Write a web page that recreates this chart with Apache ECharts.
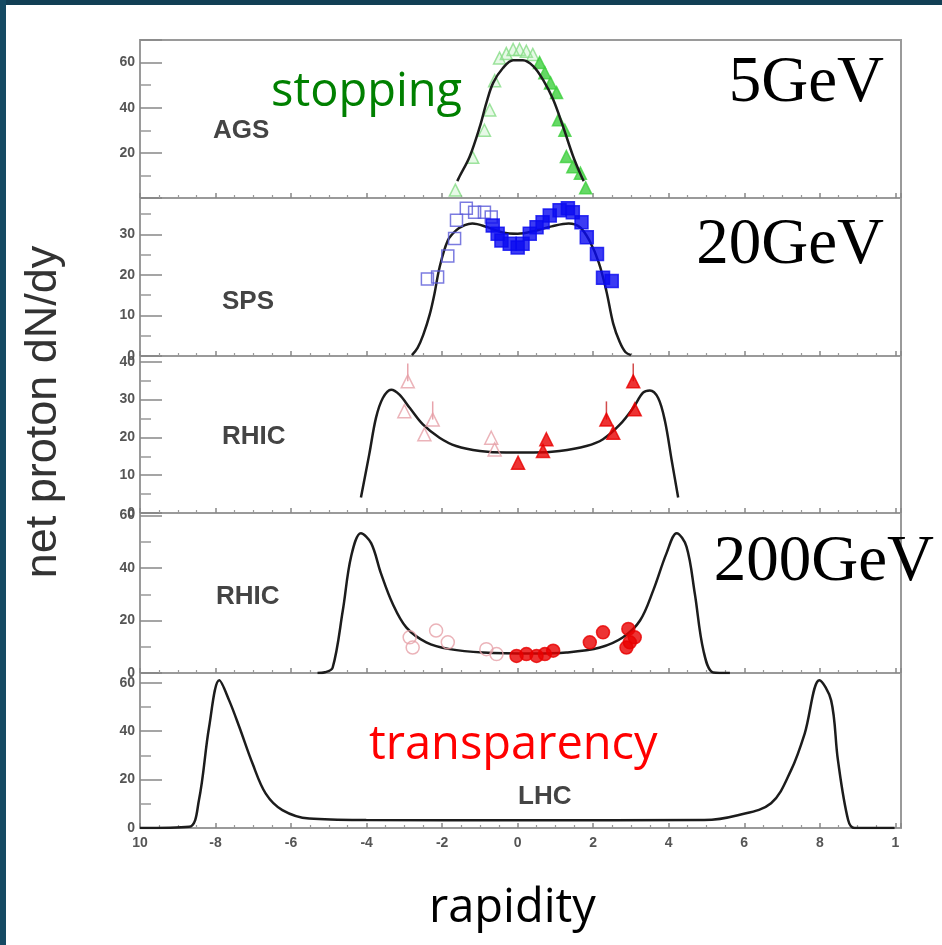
<!DOCTYPE html>
<html>
<head>
<meta charset="utf-8">
<script src="https://cdn.jsdelivr.net/npm/echarts@6/dist/echarts.min.js"></script>
<style>
  html, body { margin: 0; padding: 0; background: #fff; }
  #chart { width: 942px; height: 945px; }
</style>
</head>
<body>
<div id="chart"></div>
<script>
// rapidity tick labels as printed on the original (ends are clipped there)
const xTicks = { '-10': '10', '-8': '-8', '-6': '-6', '-4': '-4', '-2': '-2', '0': '0', '2': '2', '4': '4', '6': '6', '8': '8', '10': '1' };

// model curves [rapidity, dN/dy]
const agsCurve = [[-1.6, 7.5], [-1.54, 9.5], [-1.27, 18.4], [-1.0, 31.7], [-0.83, 42], [-0.65, 51], [-0.39, 57.6], [-0.12, 61], [0.14, 61], [0.41, 58.4], [0.67, 52.4], [0.94, 43.6], [1.2, 31.7], [1.47, 18.4], [1.69, 9.5], [1.75, 7.5]];
const spsCurve = [[-2.8, 0.2], [-2.65, 2], [-2.5, 5.2], [-2.33, 10.2], [-2.2, 15.5], [-2.07, 21.8], [-1.85, 28.5], [-1.63, 31], [-1.4, 32.3], [-1.2, 32.7], [-0.8, 31.8], [-0.4, 30.5], [0, 30.2], [0.5, 31], [0.9, 32], [1.35, 32.7], [1.65, 31.8], [1.9, 28.5], [2.15, 23], [2.35, 16], [2.53, 8], [2.7, 3.5], [2.85, 1], [3.0, 0.2]];
const rhic62Curve = [[-4.15, 4.1], [-3.93, 15.5], [-3.75, 25.2], [-3.57, 30.4], [-3.35, 32.6], [-3.13, 31.3], [-2.86, 27.8], [-2.51, 23.4], [-2.07, 19.9], [-1.63, 17.7], [-1.0, 16.4], [-0.3, 16], [0.41, 16], [1.11, 16.4], [1.82, 17.7], [2.26, 19.5], [2.71, 23.4], [3.06, 27.8], [3.32, 31.8], [3.5, 32.4], [3.72, 30.4], [3.9, 24.3], [4.08, 13.8], [4.25, 4.1]];
const rhic200Curve = [[-5.3, 0], [-5.1, 0.3], [-4.9, 2], [-4.63, 23.8], [-4.41, 44.4], [-4.15, 53.3], [-3.88, 49.5], [-3.62, 38], [-3.31, 26.4], [-2.95, 17.4], [-2.42, 11.7], [-1.8, 9.1], [-0.92, 7.8], [0.41, 7.4], [1.29, 7.8], [2.18, 9.7], [2.79, 13.6], [3.24, 20], [3.59, 31.5], [3.94, 45.6], [4.21, 53.3], [4.47, 48.2], [4.69, 30.3], [4.92, 8.5], [5.18, 0.2], [5.62, 0]];
const lhcCurve = [[-10, 0], [-8.7, 0.5], [-8.44, 11.5], [-8.17, 41.7], [-7.9, 61], [-7.64, 52.7], [-7.37, 41.7], [-7.02, 26.6], [-6.67, 14.2], [-6.23, 7.4], [-5.52, 3.9], [-4.01, 3.3], [0, 3.2], [4.94, 3.3], [5.83, 5.3], [6.71, 10.2], [7.24, 23.9], [7.6, 39], [7.99, 61], [8.3, 52.7], [8.48, 28], [8.75, 3.3], [8.92, 0], [9.98, 0]];

// measured points
const agsOpen = [[-1.65, 3.5], [-1.19, 18], [-0.88, 30], [-0.74, 39], [-0.61, 52], [-0.48, 62], [-0.3, 64], [-0.12, 65.8], [0.05, 65.8], [0.23, 65], [0.4, 63.6]];
const agsFilled = [[0.58, 60], [0.72, 55.5], [0.87, 51], [1.03, 46.7], [1.08, 34.7], [1.25, 30], [1.29, 18.4], [1.46, 13.8], [1.66, 11], [1.8, 4.5]];
const spsOpen = [[-2.39, 19], [-2.12, 19.5], [-1.85, 24.7], [-1.67, 29], [-1.62, 33.5], [-1.36, 36.5], [-1.14, 35.5], [-0.88, 35.5], [-0.7, 34.3]];
const spsFilled = [[-0.66, 32.2], [-0.53, 30.2], [-0.43, 28.5], [-0.21, 27.7], [0, 26.8], [0.13, 27.7], [0.32, 30.2], [0.5, 31.8], [0.66, 33], [0.85, 34.7], [1.11, 36], [1.33, 36.5], [1.46, 35.5], [1.69, 33], [1.83, 29.3], [2.1, 25.2], [2.26, 19.3], [2.49, 18.5]];
const rhic62Open = [[-2.91, 34.8], [-3.0, 26.9], [-2.25, 24.7], [-2.47, 20.8], [-0.7, 19.9], [-0.61, 16.8]];
const rhic62Filled = [[0.01, 13.3], [0.67, 16.4], [0.76, 19.5], [2.35, 24.7], [2.53, 21.2], [3.06, 34.8], [3.1, 27.4]];
const rhic62Err = [[-2.91, 34.8, 39.5], [-2.25, 24.7, 29.5], [2.35, 24.7, 29.5], [3.06, 34.8, 39.5]];
const rhic200Open = [[-2.86, 13.6], [-2.78, 9.7], [-2.16, 16.2], [-1.85, 11.7], [-0.83, 9.1], [-0.56, 7.2]];
const rhic200Filled = [[-0.03, 6.5], [0.23, 7.2], [0.5, 6.5], [0.72, 7.2], [0.94, 8.5], [1.91, 11.7], [2.26, 15.5], [2.93, 16.8], [2.97, 11.7], [3.1, 13.6], [2.88, 9.7]];

// panel y ranges and tick steps
const yMax = [70, 39, 41.5, 61, 64];
const yStep = [20, 10, 10, 20, 20];
const panelTop = [40, 198, 356, 513, 673];
const panelHeight = [158, 158, 157, 160, 155];

const chart = echarts.init(document.getElementById('chart'));

const grids = panelTop.map((t, i) => ({
  left: 140, right: 41, top: t, height: panelHeight[i],
  show: true, borderColor: '#9a9a9a', borderWidth: 2, backgroundColor: 'transparent'
}));

const xAxes = panelTop.map((t, i) => ({
  type: 'value', gridIndex: i, min: -10, max: 10.15, interval: 2, position: 'bottom',
  axisLine: { show: false, onZero: false },
  splitLine: { show: false },
  axisTick: { show: true, inside: true, length: 5, lineStyle: { color: '#888', width: 1.5 } },
  minorTick: { show: true, splitNumber: 4, length: 3, lineStyle: { color: '#999', width: 1.2 } },
  axisLabel: {
    show: i === 4, margin: 8, color: '#555', fontSize: 14, fontWeight: 'bold', fontFamily: 'Liberation Sans',
    formatter: v => (xTicks[String(v)] !== undefined ? xTicks[String(v)] : '')
  }
}));

const yAxes = panelTop.map((t, i) => ({
  type: 'value', gridIndex: i, min: 0, max: yMax[i], interval: yStep[i], position: 'left',
  axisLine: { show: false, onZero: false },
  splitLine: { show: false },
  axisTick: { show: true, inside: true, length: 22, lineStyle: { color: '#888', width: 1.5 } },
  minorTick: { show: true, splitNumber: 2, length: 11, lineStyle: { color: '#999', width: 1.5 } },
  axisLabel: {
    margin: 5, color: '#555', fontSize: 14, fontWeight: 'bold', fontFamily: 'Liberation Sans',
    formatter: v => {
      if (v % yStep[i] !== 0) return '';
      if (i === 0 && v === 0) return '';
      return String(v);
    }
  }
}));

function curve(i, data, z) {
  return {
    type: 'line', xAxisIndex: i, yAxisIndex: i, data: data, smooth: 0.35,
    showSymbol: false, z: z, silent: true,
    lineStyle: { color: '#1c1c1c', width: 2.5 }
  };
}
function points(i, data, symbol, size, fill, stroke, z) {
  return {
    type: 'scatter', xAxisIndex: i, yAxisIndex: i, data: data, symbol: symbol, symbolSize: size, z: z, silent: true,
    itemStyle: { color: fill, borderColor: stroke, borderWidth: 1.5 }
  };
}

const series = [
  points(0, agsOpen, 'triangle', 12, 'rgba(170,235,170,0.35)', '#86dc86', 2),
  points(0, agsFilled, 'triangle', 12, '#3fcf3f', '#3fcf3f', 2),
  curve(0, agsCurve, 3),
  curve(1, spsCurve, 2),
  points(1, spsOpen, 'rect', 12, 'rgba(255,255,255,0)', '#5a5ad8', 3),
  points(1, spsFilled, 'rect', 13, '#0a0af0', '#0a0af0', 3),
  {
    type: 'custom', xAxisIndex: 2, yAxisIndex: 2, data: rhic62Err, z: 2, silent: true,
    encode: { x: 0, y: [1, 2] },
    renderItem: (params, api) => {
      const p0 = api.coord([api.value(0), api.value(1)]);
      const p1 = api.coord([api.value(0), api.value(2)]);
      return {
        type: 'line',
        shape: { x1: p0[0], y1: p0[1], x2: p1[0], y2: p1[1] },
        style: { stroke: api.value(0) < 0 ? '#e8a3ab' : '#d24b4b', lineWidth: 1.5 }
      };
    }
  },
  curve(2, rhic62Curve, 2),
  points(2, rhic62Open, 'triangle', 13, 'rgba(255,255,255,0)', '#e6a0a8', 3),
  points(2, rhic62Filled, 'triangle', 13, '#e80000', '#e80000', 3),
  curve(3, rhic200Curve, 2),
  points(3, rhic200Open, 'circle', 13, 'rgba(255,255,255,0)', '#e6a0a8', 3),
  points(3, rhic200Filled, 'circle', 13, '#e80000', '#e80000', 3),
  curve(4, lhcCurve, 2)
];

function label(x, y, text, font, fill, align) {
  return { type: 'text', x: x, y: y, z: 10, silent: true,
    style: { text: text, font: font, fill: fill, align: align || 'left', verticalAlign: 'middle' } };
}

const graphic = [
  { type: 'rect', shape: { x: 0, y: 0, width: 942, height: 5 }, style: { fill: '#123f55' }, z: 20 },
  { type: 'rect', shape: { x: 0, y: 0, width: 6, height: 945 }, style: { fill: '#154a63' }, z: 20 },
  label(271, 93, 'stopping', '47px "Open Sans"', '#008000'),
  label(369, 746, 'transparency', '47px "Open Sans"', '#ff0000'),
  label(429, 909, 'rapidity', '47px "Open Sans"', '#000'),
  label(884, 84, '5GeV', '65px "Liberation Serif"', '#000', 'right'),
  label(884, 246, '20GeV', '65px "Liberation Serif"', '#000', 'right'),
  label(934, 563, '200GeV', '65px "Liberation Serif"', '#000', 'right'),
  label(213, 131, 'AGS', 'bold 26px "Liberation Sans"', '#444'),
  label(222, 302, 'SPS', 'bold 26px "Liberation Sans"', '#444'),
  label(222, 437, 'RHIC', 'bold 26px "Liberation Sans"', '#444'),
  label(216, 597, 'RHIC', 'bold 26px "Liberation Sans"', '#444'),
  label(518, 797, 'LHC', 'bold 26px "Liberation Sans"', '#444'),
  { type: 'text', x: 44, y: 412, rotation: Math.PI / 2, z: 10, silent: true,
    style: { text: 'net proton dN/dy', font: '45px "Liberation Sans"', fill: '#333', align: 'center', verticalAlign: 'middle' } }
];

chart.setOption({
  animation: false,
  backgroundColor: '#fff',
  grid: grids,
  xAxis: xAxes,
  yAxis: yAxes,
  series: series,
  graphic: graphic
});
</script>
</body>
</html>
